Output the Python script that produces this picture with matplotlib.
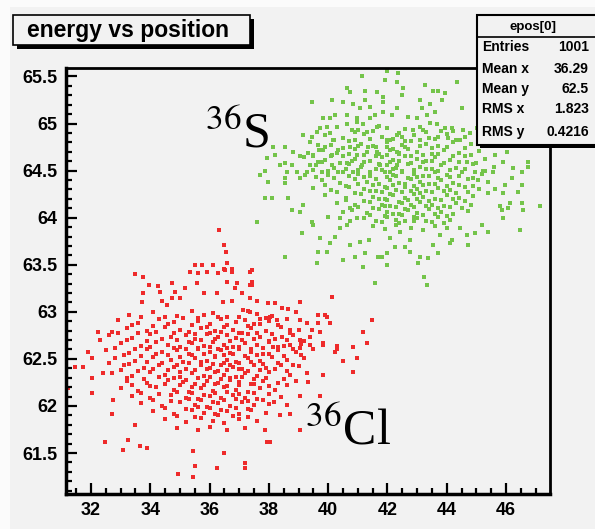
import matplotlib.pyplot as plt
from matplotlib.patches import Rectangle
from matplotlib.ticker import MultipleLocator

# ---------------- data ----------------
# 36Cl cluster: sparse outer points first, then the denser core
red_xy = [
    (36.32, 63.87), (36.49, 63.71), (36.55, 63.64), (36.60, 63.52), (36.50, 63.45), (36.76, 63.45),
    (35.50, 63.50), (35.74, 63.50), (36.10, 63.50), (35.34, 63.42), (37.43, 63.44), (33.48, 63.40),
    (33.75, 63.37), (37.43, 63.32), (37.37, 63.29), (39.05, 63.10), (40.13, 63.16), (41.48, 62.91),
    (41.17, 62.79), (41.31, 62.67), (40.84, 62.63), (40.50, 62.48), (40.97, 62.51), (40.84, 62.36),
    (40.30, 62.64), (40.23, 62.57), (39.96, 62.94), (39.66, 62.97), (39.66, 62.88), (39.83, 62.67),
    (39.83, 62.33), (39.32, 62.25), (39.72, 62.11),
    (32.24, 62.79), (32.30, 62.70), (32.71, 62.79), (31.90, 62.57), (32.03, 62.51), (31.46, 62.41),
    (31.73, 62.41), (32.03, 62.30), (32.03, 62.14), (31.22, 62.19), (32.40, 62.35), (32.71, 61.92),
    (32.74, 62.06), (32.47, 61.62), (33.08, 61.53), (33.25, 61.64), (33.65, 61.58), (33.89, 61.55),
    (33.48, 61.80), (35.44, 61.52), (34.93, 61.28), (35.44, 61.25), (35.51, 61.36), (36.25, 61.34),
    (36.49, 61.50), (37.19, 61.39), (37.19, 61.34), (37.94, 61.62), (38.04, 61.62), (37.87, 61.75),
    (39.05, 61.74), (38.37, 61.90), (38.71, 61.92), (38.61, 62.01), (39.05, 62.11), (38.17, 62.04),
    (33.96, 63.28), (34.26, 63.27), (34.33, 63.21), (34.73, 63.31), (34.83, 63.21), (35.00, 63.15),
    (35.17, 63.25), (35.61, 63.41), (35.91, 63.42), (35.58, 63.31), (35.81, 63.20), (33.75, 63.20),
    (33.72, 63.10), (34.39, 63.12), (34.56, 63.07), (34.73, 63.15), (36.52, 63.44), (36.76, 63.42),
    (36.92, 63.31), (36.59, 63.32), (36.28, 63.41), (37.36, 63.42), (37.43, 63.28), (37.09, 63.20),
    (37.36, 63.15), (37.60, 63.12), (37.97, 63.09), (38.21, 63.09), (38.44, 63.04), (38.64, 63.03),
    (36.86, 63.25), (36.25, 63.20), (36.76, 63.12), (36.45, 63.10), (37.12, 63.02), (37.36, 63.00),
    (37.70, 62.92), (38.04, 62.94), (38.27, 62.91), (38.71, 62.81), (38.44, 62.73), (39.05, 62.91),
    (39.28, 62.88), (39.90, 62.97), (40.06, 62.88), (39.45, 62.81), (39.72, 62.79), (39.05, 62.70),
    (39.39, 62.65), (39.83, 62.65), (40.30, 62.61), (38.71, 62.65), (38.14, 62.63), (39.05, 62.62),
    # core
    (33.3, 62.97), (34.1, 63.00), (34.9, 62.96), (35.4, 63.01), (35.8, 62.97), (36.1, 62.99),
    (36.6, 62.95), (37.3, 63.01), (37.6, 62.98), (38.1, 62.96), (38.9, 63.00),
    (32.9, 62.91), (33.6, 62.88), (34.3, 62.92), (34.8, 62.89), (35.1, 62.93), (35.6, 62.90),
    (36.0, 62.87), (36.4, 62.92), (36.9, 62.89), (37.2, 62.91), (37.5, 62.87), (38.0, 62.90), (38.6, 62.92),
    (33.2, 62.83), (33.9, 62.80), (34.5, 62.84), (35.0, 62.81), (35.3, 62.79), (35.7, 62.83),
    (36.2, 62.80), (36.5, 62.84), (36.8, 62.81), (37.1, 62.78), (37.4, 62.83), (37.9, 62.80),
    (38.4, 62.84), (39.0, 62.81),
    (32.6, 62.75), (33.4, 62.72), (34.0, 62.76), (34.7, 62.73), (35.2, 62.75), (35.5, 62.71),
    (35.9, 62.76), (36.3, 62.73), (36.6, 62.75), (36.9, 62.72), (37.3, 62.76), (37.7, 62.73),
    (38.2, 62.71), (38.8, 62.75), (39.4, 62.73),
    (33.0, 62.67), (33.7, 62.64), (34.2, 62.68), (34.6, 62.65), (35.0, 62.63), (35.4, 62.67),
    (35.8, 62.64), (36.1, 62.68), (36.5, 62.65), (36.8, 62.63), (37.2, 62.67), (37.6, 62.65),
    (38.0, 62.68), (38.5, 62.64), (39.1, 62.66),
    (32.5, 62.59), (33.3, 62.56), (33.9, 62.60), (34.4, 62.57), (34.9, 62.59), (35.3, 62.55),
    (35.6, 62.60), (36.0, 62.57), (36.4, 62.59), (36.7, 62.56), (37.0, 62.60), (37.4, 62.57),
    (37.8, 62.55), (38.3, 62.59), (38.9, 62.57), (39.5, 62.60),
    (32.8, 62.51), (33.5, 62.48), (34.1, 62.52), (34.7, 62.49), (35.1, 62.47), (35.5, 62.51),
    (35.9, 62.48), (36.2, 62.52), (36.6, 62.49), (36.9, 62.47), (37.3, 62.51), (37.7, 62.48),
    (38.1, 62.52), (38.6, 62.49), (39.2, 62.51),
    (33.1, 62.43), (33.8, 62.40), (34.3, 62.44), (34.8, 62.41), (35.2, 62.39), (35.7, 62.43),
    (36.0, 62.40), (36.4, 62.44), (36.8, 62.41), (37.1, 62.39), (37.5, 62.43), (37.9, 62.40),
    (38.4, 62.44), (39.0, 62.42),
    (32.7, 62.35), (33.4, 62.32), (34.0, 62.36), (34.5, 62.33), (35.0, 62.31), (35.4, 62.35),
    (35.8, 62.32), (36.2, 62.36), (36.5, 62.33), (36.9, 62.31), (37.2, 62.35), (37.6, 62.32),
    (38.0, 62.36), (38.7, 62.33), (39.3, 62.35),
    (33.2, 62.27), (33.9, 62.24), (34.6, 62.28), (35.1, 62.25), (35.5, 62.23), (35.9, 62.27),
    (36.3, 62.24), (36.7, 62.28), (37.0, 62.25), (37.4, 62.23), (37.8, 62.27), (38.3, 62.24), (38.9, 62.26),
    (33.0, 62.19), (33.6, 62.16), (34.2, 62.20), (34.8, 62.17), (35.3, 62.15), (35.7, 62.19),
    (36.1, 62.16), (36.5, 62.20), (36.9, 62.17), (37.3, 62.15), (37.7, 62.19), (38.2, 62.17),
    (33.4, 62.11), (34.0, 62.08), (34.7, 62.12), (35.2, 62.09), (35.6, 62.07), (36.0, 62.11),
    (36.4, 62.08), (36.8, 62.12), (37.2, 62.09), (37.6, 62.07), (38.4, 62.10),
    (33.7, 62.03), (34.4, 62.00), (35.0, 62.04), (35.5, 62.01), (35.9, 61.99), (36.3, 62.03),
    (36.7, 62.00), (37.1, 62.04), (37.5, 62.01), (38.0, 62.02),
    (34.1, 61.95), (34.8, 61.92), (35.4, 61.96), (35.8, 61.93), (36.2, 61.91), (36.6, 61.95),
    (37.0, 61.92), (37.4, 61.96), (37.9, 61.93),
    (34.5, 61.86), (35.2, 61.83), (35.7, 61.87), (36.1, 61.84), (36.5, 61.82), (37.0, 61.86), (37.6, 61.84),
    (34.9, 61.77), (35.6, 61.74), (36.0, 61.78), (36.6, 61.75), (37.2, 61.77),
    # core, in-between rows
    (33.7, 62.94), (34.5, 62.95), (35.6, 62.93), (36.3, 62.95), (37.0, 62.94), (37.9, 62.93),
    (33.4, 62.86), (34.1, 62.85), (34.6, 62.87), (35.4, 62.86), (35.9, 62.84), (36.6, 62.86),
    (37.3, 62.85), (37.7, 62.87), (38.3, 62.86),
    (32.9, 62.78), (33.6, 62.77), (34.2, 62.79), (34.8, 62.78), (35.5, 62.76), (36.0, 62.78),
    (36.4, 62.79), (37.0, 62.77), (37.6, 62.78), (38.1, 62.76), (38.7, 62.78),
    (33.2, 62.70), (33.9, 62.69), (34.4, 62.71), (34.9, 62.70), (35.3, 62.68), (35.7, 62.70),
    (36.2, 62.71), (36.7, 62.69), (37.1, 62.70), (37.5, 62.71), (38.0, 62.69), (38.6, 62.70), (39.2, 62.69),
    (32.8, 62.62), (33.5, 62.61), (34.0, 62.63), (34.8, 62.62), (35.2, 62.60), (35.6, 62.62),
    (36.0, 62.63), (36.3, 62.61), (36.6, 62.62), (37.0, 62.63), (37.4, 62.61), (37.8, 62.62),
    (38.3, 62.63), (38.8, 62.61),
    (33.1, 62.54), (33.7, 62.53), (34.2, 62.55), (34.6, 62.54), (35.0, 62.52), (35.4, 62.54),
    (35.8, 62.55), (36.2, 62.53), (36.5, 62.54), (36.8, 62.55), (37.2, 62.53), (37.6, 62.54),
    (38.0, 62.55), (38.5, 62.53), (39.1, 62.54),
    (32.6, 62.46), (33.3, 62.45), (33.9, 62.47), (34.4, 62.46), (34.9, 62.44), (35.3, 62.46),
    (35.7, 62.47), (36.1, 62.45), (36.5, 62.46), (36.7, 62.44), (37.0, 62.46), (37.4, 62.47),
    (37.8, 62.45), (38.3, 62.46), (38.8, 62.44),
    (33.0, 62.38), (33.6, 62.37), (34.1, 62.39), (34.6, 62.38), (35.0, 62.36), (35.5, 62.38),
    (35.9, 62.39), (36.3, 62.37), (36.6, 62.38), (37.0, 62.39), (37.3, 62.37), (37.7, 62.38),
    (38.2, 62.39), (38.6, 62.37),
    (33.2, 62.30), (33.8, 62.29), (34.3, 62.31), (34.8, 62.30), (35.2, 62.28), (35.6, 62.30),
    (36.0, 62.31), (36.4, 62.29), (36.7, 62.30), (37.1, 62.31), (37.5, 62.29), (37.9, 62.30), (38.5, 62.29),
    (33.4, 62.22), (34.0, 62.21), (34.5, 62.23), (35.0, 62.22), (35.4, 62.20), (35.8, 62.22),
    (36.2, 62.23), (36.6, 62.21), (37.0, 62.22), (37.5, 62.23), (38.0, 62.21), (38.6, 62.22),
    (33.7, 62.14), (34.3, 62.13), (34.9, 62.15), (35.4, 62.14), (35.8, 62.12), (36.2, 62.14),
    (36.6, 62.15), (37.0, 62.13), (37.5, 62.14), (38.0, 62.13),
    (34.1, 62.06), (34.7, 62.05), (35.3, 62.07), (35.7, 62.06), (36.1, 62.04), (36.5, 62.06),
    (36.9, 62.07), (37.3, 62.05), (37.8, 62.06),
    (34.5, 61.98), (35.2, 61.97), (35.6, 61.99), (36.0, 61.98), (36.4, 61.96), (36.9, 61.98), (37.3, 61.97),
    (34.9, 61.89), (35.5, 61.88), (36.3, 61.90), (36.8, 61.89), (37.3, 61.88),
]

# 36S cluster
green_xy = [
    (41.98, 65.56), (41.14, 65.50), (41.92, 65.46), (42.32, 65.44), (40.63, 65.38), (40.74, 65.34),
    (41.24, 65.35), (41.65, 65.33), (41.85, 65.28), (39.45, 65.23), (40.13, 65.25), (40.50, 65.23),
    (40.84, 65.21), (41.24, 65.25), (41.41, 65.18), (41.85, 65.23), (42.32, 65.17), (41.07, 65.17),
    (39.82, 65.06), (40.06, 65.06), (40.23, 65.09), (40.63, 65.09), (40.97, 65.06), (41.41, 65.06),
    (41.58, 65.09), (41.85, 65.12), (42.15, 65.09),
    (39.15, 64.88), (39.45, 64.86), (39.62, 64.91), (39.72, 64.95), (39.96, 64.96), (40.06, 64.90),
    (40.16, 64.83), (40.63, 64.99), (40.80, 64.93), (40.97, 65.02), (41.17, 64.99), (41.31, 64.91),
    (41.65, 64.96), (41.98, 64.95), (42.32, 64.88), (42.08, 64.83),
    (38.14, 64.75), (38.54, 64.75), (38.21, 64.67), (38.81, 64.70), (39.05, 64.65), (39.32, 64.69),
    (39.49, 64.65), (39.66, 64.77), (39.82, 64.72), (40.13, 64.67), (40.33, 64.72), (40.74, 64.75),
    (40.97, 64.67), (41.34, 64.75), (41.65, 64.70), (41.98, 64.75), (42.32, 64.70),
    (37.94, 64.63), (37.70, 64.45), (37.87, 64.50), (38.54, 64.58), (38.61, 64.48), (38.37, 64.56),
    (38.78, 64.56), (38.95, 64.49), (39.05, 64.42), (39.22, 64.45), (39.39, 64.56), (39.66, 64.59),
    (39.79, 64.49), (40.13, 64.56), (40.33, 64.49), (40.63, 64.58), (40.84, 64.49), (41.14, 64.56),
    (41.41, 64.48), (41.75, 64.56), (42.08, 64.49), (42.32, 64.56),
    (37.60, 63.95), (37.87, 64.21), (38.10, 64.21), (37.97, 64.38), (38.54, 64.42), (38.54, 64.37),
    (38.64, 64.21), (38.78, 64.08), (39.05, 64.06), (39.15, 64.14), (39.12, 63.84), (39.45, 63.95),
    (39.49, 63.92), (39.72, 63.78), (39.66, 63.64), (39.96, 63.64), (40.06, 63.73), (40.23, 63.80),
    (38.54, 63.58), (39.62, 63.52), (40.50, 63.55), (40.74, 63.71), (40.90, 63.58), (41.17, 63.48),
    (41.24, 63.62), (41.58, 63.31), (41.68, 63.58), (41.81, 63.58), (41.98, 63.50), (41.98, 63.62),
    (42.08, 63.78), (42.25, 63.69), (41.38, 63.76), (41.07, 63.74), (40.40, 63.89), (40.63, 63.92),
    (39.99, 64.01), (40.40, 64.00), (40.74, 63.96), (40.97, 64.00), (40.50, 64.06), (40.74, 64.10),
    (42.35, 65.54), (44.34, 65.44), (43.26, 65.41), (42.52, 65.38), (42.49, 65.30), (43.53, 65.35),
    (43.70, 65.35), (43.94, 65.32), (43.84, 65.25), (43.10, 65.25), (43.43, 65.21), (43.16, 65.17),
    (44.51, 65.17), (42.69, 65.07), (42.99, 65.06), (43.33, 65.09), (43.60, 65.12), (43.43, 65.01),
    (43.67, 64.99), (43.94, 64.95), (44.18, 64.95), (44.55, 64.93), (45.02, 64.95), (43.20, 64.93),
    (42.86, 64.93), (42.49, 64.86), (43.70, 64.86), (44.04, 64.85), (44.44, 64.83), (44.78, 64.90),
    (45.29, 64.80), (45.53, 64.77), (45.86, 64.77), (46.37, 64.77), (46.81, 64.83), (46.03, 64.70),
    (45.63, 64.67), (46.74, 64.59), (46.74, 64.54), (46.54, 64.49), (46.23, 64.53), (45.90, 64.59),
    (45.56, 64.48), (45.22, 64.50), (44.95, 64.49), (44.68, 64.59), (45.05, 64.40), (46.20, 64.42),
    (46.54, 64.35), (45.96, 64.35), (45.63, 64.30), (45.39, 64.26), (45.90, 64.26), (46.40, 64.27),
    (46.54, 64.16), (46.13, 64.16), (45.79, 64.12), (45.86, 64.08), (46.57, 64.08), (46.06, 64.10),
    (47.14, 64.12), (45.90, 64.00), (46.47, 63.87), (45.39, 63.85), (45.19, 63.92), (44.95, 63.84),
    (44.68, 63.82), (44.71, 63.71), (44.44, 63.89), (44.18, 63.76), (44.11, 63.73), (43.77, 63.82),
    (43.70, 63.62), (43.53, 63.71), (43.37, 63.57), (43.10, 63.58), (43.03, 63.52), (42.76, 63.64),
    (42.76, 63.76), (42.59, 63.69), (43.23, 63.37), (43.33, 63.29), (42.42, 63.85),
    # core
    (40.3, 64.96), (41.0, 64.93), (41.7, 64.97), (42.6, 64.94), (43.1, 64.96), (43.8, 64.92),
    (39.9, 64.88), (40.5, 64.85), (41.2, 64.89), (41.8, 64.86), (42.2, 64.84), (42.9, 64.88),
    (43.4, 64.85), (44.0, 64.89), (44.6, 64.86),
    (39.4, 64.80), (40.1, 64.77), (40.7, 64.81), (41.1, 64.78), (41.5, 64.76), (42.0, 64.80),
    (42.5, 64.77), (42.8, 64.81), (43.3, 64.78), (43.7, 64.76), (44.2, 64.80), (44.8, 64.78),
    (39.7, 64.72), (40.3, 64.69), (40.9, 64.73), (41.3, 64.70), (41.7, 64.68), (42.1, 64.72),
    (42.4, 64.69), (42.7, 64.73), (43.0, 64.70), (43.5, 64.68), (43.9, 64.72), (44.4, 64.69), (45.1, 64.71),
    (39.2, 64.64), (39.9, 64.61), (40.5, 64.65), (40.9, 64.62), (41.4, 64.60), (41.8, 64.64),
    (42.2, 64.61), (42.6, 64.65), (43.0, 64.62), (43.3, 64.60), (43.6, 64.64), (44.1, 64.61),
    (44.6, 64.65), (45.3, 64.62),
    (39.6, 64.56), (40.2, 64.53), (40.7, 64.57), (41.1, 64.54), (41.6, 64.52), (42.0, 64.56),
    (42.3, 64.53), (42.7, 64.57), (43.1, 64.54), (43.5, 64.52), (43.8, 64.56), (44.3, 64.53),
    (44.9, 64.57), (45.6, 64.54),
    (39.3, 64.48), (40.0, 64.45), (40.5, 64.49), (41.0, 64.46), (41.4, 64.44), (41.9, 64.48),
    (42.2, 64.45), (42.5, 64.49), (42.9, 64.46), (43.2, 64.44), (43.6, 64.48), (44.0, 64.45),
    (44.5, 64.49), (45.2, 64.46),
    (39.8, 64.40), (40.4, 64.37), (40.9, 64.41), (41.3, 64.38), (41.7, 64.36), (42.1, 64.40),
    (42.4, 64.37), (42.8, 64.41), (43.1, 64.38), (43.4, 64.36), (43.8, 64.40), (44.2, 64.37),
    (44.7, 64.41), (45.4, 64.38),
    (39.5, 64.32), (40.1, 64.29), (40.7, 64.33), (41.2, 64.30), (41.6, 64.28), (42.0, 64.32),
    (42.3, 64.29), (42.6, 64.33), (43.0, 64.30), (43.3, 64.28), (43.7, 64.32), (44.1, 64.29),
    (44.6, 64.33), (45.1, 64.31),
    (39.9, 64.24), (40.6, 64.21), (41.1, 64.25), (41.5, 64.22), (41.9, 64.20), (42.2, 64.24),
    (42.6, 64.21), (42.9, 64.25), (43.2, 64.22), (43.6, 64.20), (44.0, 64.24), (44.4, 64.21), (44.9, 64.23),
    (40.3, 64.16), (40.9, 64.13), (41.4, 64.17), (41.8, 64.14), (42.1, 64.12), (42.5, 64.16),
    (42.8, 64.13), (43.1, 64.17), (43.5, 64.14), (43.9, 64.12), (44.3, 64.16), (44.8, 64.14),
    (40.8, 64.08), (41.3, 64.05), (41.7, 64.09), (42.0, 64.06), (42.4, 64.04), (42.7, 64.08),
    (43.0, 64.05), (43.4, 64.09), (43.8, 64.06), (44.2, 64.04), (44.7, 64.07),
    (41.2, 64.00), (41.6, 63.97), (42.0, 64.01), (42.3, 63.98), (42.6, 63.96), (43.0, 64.00),
    (43.3, 63.97), (43.7, 64.01), (44.1, 63.98),
    (41.5, 63.91), (41.9, 63.88), (42.3, 63.92), (42.8, 63.89), (43.2, 63.87), (43.6, 63.91), (44.0, 63.89),
    # core, in-between rows
    (40.9, 64.91), (41.5, 64.92), (42.4, 64.90), (43.3, 64.91), (44.2, 64.92),
    (40.2, 64.83), (40.9, 64.82), (41.4, 64.84), (42.0, 64.83), (42.6, 64.81), (43.1, 64.83),
    (43.6, 64.84), (44.3, 64.82),
    (39.9, 64.75), (40.5, 64.74), (41.0, 64.76), (41.6, 64.75), (42.2, 64.73), (42.6, 64.75),
    (43.1, 64.76), (43.5, 64.74), (44.0, 64.75), (44.6, 64.74),
    (39.5, 64.67), (40.1, 64.66), (40.7, 64.68), (41.2, 64.67), (41.6, 64.65), (42.0, 64.67),
    (42.4, 64.68), (42.8, 64.66), (43.2, 64.67), (43.7, 64.68), (44.2, 64.66), (44.8, 64.67),
    (39.8, 64.59), (40.4, 64.58), (40.8, 64.60), (41.2, 64.59), (41.7, 64.57), (42.1, 64.59),
    (42.4, 64.60), (42.8, 64.58), (43.2, 64.59), (43.5, 64.60), (43.9, 64.58), (44.4, 64.59), (45.0, 64.58),
    (39.5, 64.51), (40.0, 64.50), (40.6, 64.52), (41.0, 64.51), (41.4, 64.49), (41.8, 64.51),
    (42.2, 64.52), (42.5, 64.50), (42.9, 64.51), (43.3, 64.52), (43.7, 64.50), (44.1, 64.51),
    (44.6, 64.52), (45.3, 64.50),
    (39.6, 64.43), (40.2, 64.42), (40.7, 64.44), (41.2, 64.43), (41.6, 64.41), (42.0, 64.43),
    (42.3, 64.44), (42.7, 64.42), (43.0, 64.43), (43.4, 64.44), (43.7, 64.42), (44.1, 64.43),
    (44.4, 64.44), (44.9, 64.42),
    (39.9, 64.35), (40.6, 64.34), (41.0, 64.36), (41.5, 64.35), (41.9, 64.33), (42.2, 64.35),
    (42.6, 64.36), (42.9, 64.34), (43.2, 64.35), (43.6, 64.36), (44.0, 64.34), (44.4, 64.35), (44.9, 64.34),
    (40.3, 64.27), (40.9, 64.26), (41.4, 64.28), (41.8, 64.27), (42.1, 64.25), (42.5, 64.27),
    (42.8, 64.28), (43.1, 64.26), (43.5, 64.27), (43.9, 64.28), (44.3, 64.26), (44.7, 64.27),
    (40.6, 64.19), (41.2, 64.18), (41.7, 64.20), (42.0, 64.19), (42.4, 64.17), (42.7, 64.19),
    (43.0, 64.20), (43.4, 64.18), (43.8, 64.19), (44.2, 64.20), (44.6, 64.18),
    (41.0, 64.11), (41.5, 64.10), (41.9, 64.12), (42.3, 64.11), (42.6, 64.09), (42.9, 64.11),
    (43.3, 64.12), (43.7, 64.10), (44.1, 64.11), (44.5, 64.10),
    (41.4, 64.03), (41.9, 64.02), (42.2, 64.04), (42.5, 64.03), (42.9, 64.01), (43.2, 64.03),
    (43.6, 64.04), (44.0, 64.02),
    (41.8, 63.95), (42.4, 63.94), (42.9, 63.96), (43.5, 63.95), (43.9, 63.94),
]

stats_labels = ['Entries', 'Mean x', 'Mean y', 'RMS x', 'RMS y']
stats_values = ['1001', '36.29', '62.5', '1.823', '0.4216']

red_x, red_y = zip(*red_xy)
green_x, green_y = zip(*green_xy)

W, H = 595, 529
BG = '#f2f2f2'


def fpx(x, y):
    # pixel (top-left origin) -> figure fraction
    return x / W, 1 - y / H


plt.rcParams['mathtext.fontset'] = 'stix'
fig = plt.figure(figsize=(W / 100, H / 100), dpi=100, facecolor='#fbfbfb')
fig.patches.append(Rectangle((10 / W, 0), 1, 1 - 7 / H, transform=fig.transFigure,
                             facecolor=BG, edgecolor='none', zorder=-10))

x0, y0 = fpx(66, 494)
x1, y1 = fpx(550, 68)
ax = fig.add_axes([x0, y0, x1 - x0, y1 - y0])
ax.set_facecolor(BG)

ax.scatter(red_x, red_y, s=5.5, marker='s', color='#ee2b2b', linewidths=0)
ax.scatter(green_x, green_y, s=5.5, marker='s', color='#74c44a', linewidths=0)

ax.set_xlim(31.16, 47.48)
ax.set_ylim(61.065, 65.59)
ax.xaxis.set_major_locator(MultipleLocator(2))
ax.xaxis.set_minor_locator(MultipleLocator(0.5))
ax.yaxis.set_major_locator(MultipleLocator(0.5))
ax.yaxis.set_minor_locator(MultipleLocator(0.1))
ax.yaxis.set_major_formatter(plt.FuncFormatter(lambda v, p: f'{v:g}'))

ax.tick_params(which='both', direction='in', top=False, right=False, width=1.6, colors='black')
ax.tick_params(which='major', length=8, pad=6)
ax.tick_params(which='minor', length=4.5)
for lab in ax.get_xticklabels() + ax.get_yticklabels():
    lab.set_fontfamily('Liberation Sans')
    lab.set_fontweight('bold')
    lab.set_fontsize(13)
for side, lw in [('left', 2.5), ('bottom', 2.5), ('top', 2), ('right', 2)]:
    ax.spines[side].set_linewidth(lw)

# isotope labels
ax.text(35.84, 64.75, r'$^{36}$S', fontsize=36, family='Liberation Serif', va='baseline')
ax.text(39.22, 61.59, r'$^{36}$Cl', fontsize=36, family='Liberation Serif', va='baseline')

# title box with shadow
bx, by = fpx(13, 45)
bw, bh = (250 - 13) / W, (45 - 15) / H
fig.patches.append(Rectangle((bx + 4 / W, by - 4 / H), bw, bh, transform=fig.transFigure,
                             facecolor='black', edgecolor='none', zorder=5))
fig.patches.append(Rectangle((bx, by), bw, bh, transform=fig.transFigure,
                             facecolor=BG, edgecolor='black', lw=1.2, zorder=6))
tx, ty = fpx(27, 31)
fig.text(tx, ty, 'energy vs position', fontsize=16.5, fontweight='bold',
         family='Liberation Sans', va='center', ha='left', zorder=7)

# stats box
sx, sy = fpx(477, 145)
sw, sh = (640 - 477) / W, (145 - 15) / H
fig.patches.append(Rectangle((sx + 3 / W, sy - 3 / H), sw, sh, transform=fig.transFigure,
                             facecolor='black', edgecolor='none', zorder=5))
fig.patches.append(Rectangle((sx, sy), sw, sh, transform=fig.transFigure,
                             facecolor=BG, edgecolor='black', lw=1.5, zorder=6))
lx0, ly = fpx(477, 37)
fig.add_artist(plt.Line2D([lx0, 1], [ly, ly], transform=fig.transFigure, color='black', lw=1.2, zorder=7))
hx, hy = fpx(533, 27)
fig.text(hx, hy, 'epos[0]', fontsize=9.5, fontweight='bold', family='Liberation Sans',
         ha='center', va='center', zorder=8)
for lab, val, ypx in zip(stats_labels, stats_values, [47, 69, 89, 109, 132]):
    lx, yy = fpx(482, ypx)
    rx, _ = fpx(589, ypx)
    fig.text(lx, yy, lab, fontsize=10, fontweight='bold', family='Liberation Sans',
             ha='left', va='center', zorder=8)
    fig.text(rx, yy, val, fontsize=10, fontweight='bold', family='Liberation Sans',
             ha='right', va='center', zorder=8)

fig.savefig('out.png', dpi=100, facecolor=fig.get_facecolor())
